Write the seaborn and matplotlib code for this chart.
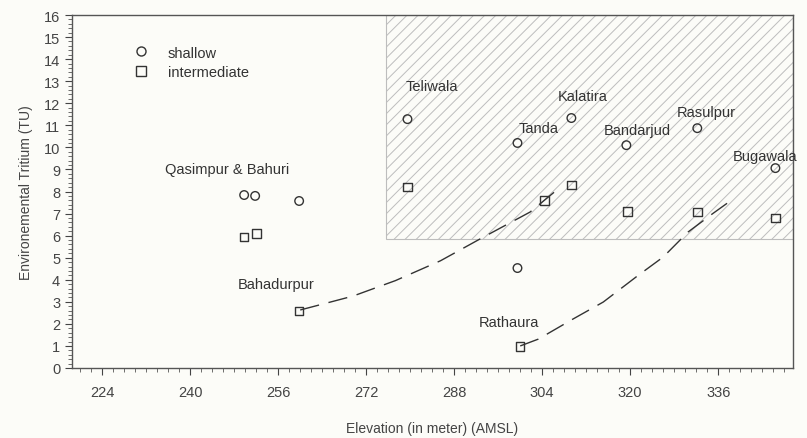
import numpy as np
import pandas as pd
import matplotlib
matplotlib.use("Agg")
import matplotlib.pyplot as plt
from matplotlib.patches import Rectangle
from matplotlib.lines import Line2D
from matplotlib.ticker import MultipleLocator
import seaborn as sns

# ---- data ----
shallow_x = [249.8, 251.8, 259.8, 279.5, 299.5, 309.3, 319.3, 332.2, 346.4, 299.5]
shallow_y = [7.84, 7.80, 7.57, 11.28, 10.20, 11.33, 10.10, 10.87, 9.06, 4.53]

inter_x = [249.8, 252.0, 259.8, 279.5, 300.0, 304.4, 309.3, 319.5, 332.2, 346.4]
inter_y = [5.94, 6.10, 2.58, 8.20, 0.97, 7.60, 8.30, 7.10, 7.07, 6.80]

curve1_x = [260.0, 265.5, 269.6, 277.3, 285.5, 292.7, 301.8, 307.3]
curve1_y = [2.63, 2.99, 3.26, 3.96, 4.86, 5.85, 7.07, 8.20]

curve2_x = [300.0, 303.3, 309.6, 315.1, 321.3, 326.0, 330.5, 334.9, 338.2]
curve2_y = [1.00, 1.31, 2.22, 2.99, 4.17, 5.03, 6.16, 6.98, 7.57]

labels = ["Teliwala", "Kalatira", "Tanda", "Bandarjud", "Rasulpur",
          "Bugawala", "Qasimpur & Bahuri", "Bahadurpur", "Rathaura"]
label_x = [279.1, 306.9, 299.8, 315.1, 328.4, 338.7, 235.5, 248.7, 292.4]
label_y = [12.78, 12.32, 10.87, 10.78, 11.60, 9.60, 9.02, 3.80, 2.08]

hatch_x = [275.6, 349.6]
hatch_y = [5.85, 16.0]

x_ticks = [224, 240, 256, 272, 288, 304, 320, 336]

# ---- figure ----
sns.set_theme(style="ticks")
plt.rcParams["font.family"] = ["Liberation Sans", "DejaVu Sans"]
plt.rcParams["hatch.linewidth"] = 0.7
plt.rcParams["hatch.color"] = "#9a9a9a"

fig = plt.figure(figsize=(8.07, 4.39), dpi=100)
fig.patch.set_facecolor("#fcfcf8")
ax = fig.add_axes([72 / 807, 1 - 369 / 439, (793 - 72) / 807, (369 - 16) / 439])
ax.set_facecolor("#fcfcf8")

ax.add_patch(Rectangle((hatch_x[0], hatch_y[0]), hatch_x[1] - hatch_x[0],
                       hatch_y[1] - hatch_y[0], facecolor="none",
                       edgecolor="#bdbdbd", hatch="///", linewidth=0.8, zorder=1))

df = pd.DataFrame({
    "x": shallow_x + inter_x,
    "y": shallow_y + inter_y,
    "type": ["shallow"] * len(shallow_x) + ["intermediate"] * len(inter_x),
})
sns.scatterplot(data=df, x="x", y="y", style="type",
                markers={"shallow": "o", "intermediate": "s"},
                facecolors="none", edgecolor="#333333", color="#333333",
                linewidth=1.0, s=38, ax=ax, zorder=3, legend=False)

c1 = pd.DataFrame({"x": curve1_x, "y": curve1_y})
c2 = pd.DataFrame({"x": curve2_x, "y": curve2_y})
sns.lineplot(data=c1, x="x", y="y", ax=ax, color="#333333", lw=1.0,
             sort=False, zorder=2).lines[-1].set_dashes([14, 7])
sns.lineplot(data=c2, x="x", y="y", ax=ax, color="#333333", lw=1.0,
             sort=False, zorder=2).lines[-1].set_dashes([14, 7])

for t, lx, ly in zip(labels, label_x, label_y):
    ax.text(lx, ly, t, fontsize=10.5, color="#333333", ha="left", va="center", zorder=4)

handles = [Line2D([], [], marker="o", ls="none", mfc="none", mec="#333333", ms=6.5, mew=1.0),
           Line2D([], [], marker="s", ls="none", mfc="none", mec="#333333", ms=6.5, mew=1.0)]
leg = ax.legend(handles, ["shallow", "intermediate"], loc="upper left",
                bbox_to_anchor=(0.078, 0.93), frameon=False, fontsize=10.5,
                handletextpad=1.3, labelspacing=0.35, handlelength=1.0,
                borderaxespad=0)
for txt in leg.get_texts():
    txt.set_color("#333333")

ax.set_xlim(218.5, 349.6)
ax.set_ylim(0, 16)
ax.set_xticks(x_ticks)
ax.xaxis.set_minor_locator(MultipleLocator(2))
ax.yaxis.set_major_locator(MultipleLocator(1))
ax.yaxis.set_minor_locator(MultipleLocator(0.2))
ax.tick_params(axis="both", which="major", labelsize=10.5, colors="#444444",
               direction="out", length=5, width=0.8)
ax.tick_params(axis="both", which="minor", direction="out", length=3,
               width=0.6, colors="#555555")
ax.tick_params(axis="x", pad=7)
for s in ax.spines.values():
    s.set_color("#555555")
    s.set_linewidth(1.0)
ax.set_xlabel("Elevation (in meter) (AMSL)", fontsize=10, color="#444444", labelpad=16)
ax.set_ylabel("Environemental Tritium (TU)", fontsize=10, color="#444444", labelpad=8)

fig.savefig("out.png", dpi=100, facecolor=fig.get_facecolor())
